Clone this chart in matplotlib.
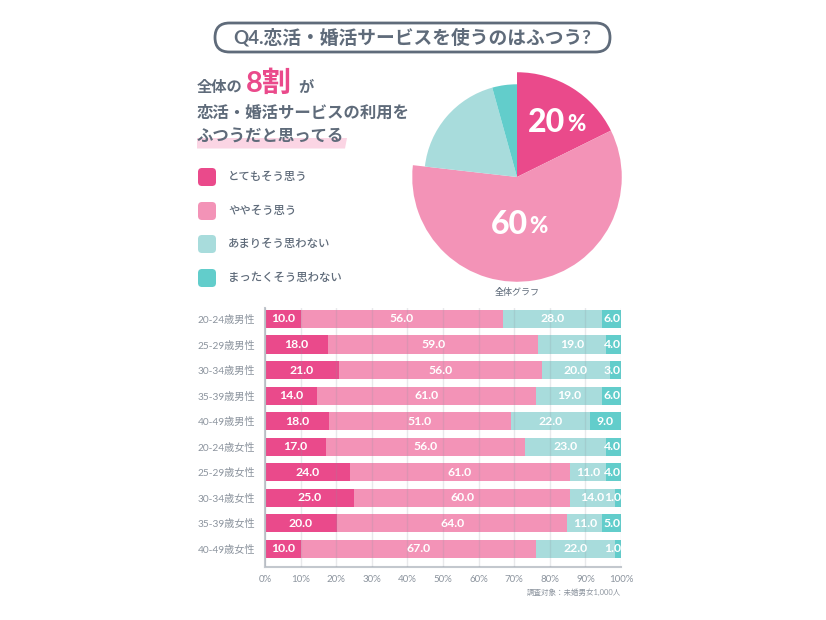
import matplotlib
matplotlib.use('Agg')
import matplotlib.pyplot as plt
from matplotlib.patches import FancyBboxPatch, Polygon
import numpy as np

plt.rcParams['font.family'] = ['Lato', 'Noto Sans CJK JP', 'DejaVu Sans']

W, H = 826, 620

# chart data
groups = ['20-24歳男性', '25-29歳男性', '30-34歳男性', '35-39歳男性', '40-49歳男性',
          '20-24歳女性', '25-29歳女性', '30-34歳女性', '35-39歳女性', '40-49歳女性']

# printed labels
very_labels = [10, 18, 21, 14, 18, 17, 24, 25, 20, 10]
somewhat_labels = [56, 59, 56, 61, 51, 56, 61, 60, 64, 67]
not_much_labels = [28, 19, 20, 19, 22, 23, 11, 14, 11, 22]
not_at_all_labels = [6, 4, 3, 6, 9, 4, 4, 1, 5, 1]

# bar lengths, they differ a little from the printed numbers
very = [10.0, 17.8, 20.8, 14.7, 17.9, 17.1, 23.9, 25.1, 20.2, 10.1]
somewhat = [56.9, 59.0, 57.0, 61.5, 51.3, 56.0, 61.7, 60.6, 64.7, 66.1]
not_much = [27.9, 18.9, 19.0, 18.6, 22.0, 22.6, 10.1, 12.6, 9.9, 22.1]
not_at_all = [5.2, 4.3, 3.2, 5.2, 8.8, 4.3, 4.3, 1.7, 5.2, 1.7]

legend_labels = ['とてもそう思う', 'ややそう思う', 'あまりそう思わない', 'まったくそう思わない']
pie_values = [17.7, 59.1, 18.9, 4.3]
pie_radii = [1.0, 1.0, 0.885, 0.885]
xticks = list(range(0, 101, 10))

colors = ['#ea4a8b', '#f393b7', '#a8dcdc', '#62cdcb']
slate = '#5f6b7a'
grey = '#8c949e'


def px_axes(fig, left, top, right, bottom):
    """axes placed by pixel box, y measured from the top of the image"""
    return fig.add_axes([left / W, 1 - bottom / H, (right - left) / W, (bottom - top) / H])


fig = plt.figure(figsize=(W / 100, H / 100), dpi=100, facecolor='white')

# background layer in pixel coordinates for the text and decorations
bg = fig.add_axes([0, 0, 1, 1])
bg.set_xlim(0, W)
bg.set_ylim(H, 0)
bg.axis('off')

# title pill
bg.add_patch(FancyBboxPatch((215, 23), 395, 29, boxstyle='round,pad=0,rounding_size=14.5',
                            fc='white', ec=slate, lw=2))
bg.text(412, 37.5, 'Q4.恋活・婚活サービスを使うのはふつう?', ha='center', va='center',
        fontsize=13.5, fontweight='bold', color=slate)

# headline
bg.text(197, 88, '全体の', ha='left', va='center', fontsize=11, fontweight='bold', color=slate)
bg.text(246, 84, '8割', ha='left', va='center', fontsize=21, fontweight='bold', color=colors[0])
bg.text(298, 88, 'が', ha='left', va='center', fontsize=11, fontweight='bold', color=slate)
bg.add_patch(Polygon([(197, 138), (347, 138), (345, 148.5), (197, 148.5)], fc='#fbd5e4', ec='none'))
bg.text(197, 113, '恋活・婚活サービスの利用を', ha='left', va='center', fontsize=11.8,
        fontweight='bold', color=slate)
bg.text(197, 137, 'ふつうだと思ってる', ha='left', va='center', fontsize=11.8,
        fontweight='bold', color=slate)

# legend
for label, col, yc in zip(legend_labels, colors, [177, 211, 244, 278]):
    bg.add_patch(FancyBboxPatch((198, yc - 9), 18, 18, boxstyle='round,pad=0,rounding_size=4',
                                fc=col, ec='none'))
    bg.text(228, yc - 0.5, label, ha='left', va='center', fontsize=8.2, fontweight='medium',
            color=slate)

bg.text(517, 292, '全体グラフ', ha='center', va='center', fontsize=6.5, color=slate)
bg.text(621, 592, '調査対象：未婚男女1,000人', ha='right', va='center', fontsize=5.4, color=grey)

# pie
pie_ax = px_axes(fig, 407, 67, 627, 287)
wedges, _ = pie_ax.pie(pie_values, colors=colors, startangle=90, counterclock=False, radius=1.0)
for w, r in zip(wedges, pie_radii):
    w.set_radius(r)
pie_ax.set_xlim(-1.05, 1.05)
pie_ax.set_ylim(-1.05, 1.05)
pie_ax.text(0.46, 0.525, '20', ha='right', va='center', fontsize=23, fontweight='black',
            color='white')
pie_ax.text(0.475, 0.505, '%', ha='left', va='center', fontsize=16, fontweight='black',
            color='white')
pie_ax.text(0.105, -0.45, '60', ha='right', va='center', fontsize=23, fontweight='black',
            color='white')
pie_ax.text(0.12, -0.47, '%', ha='left', va='center', fontsize=16, fontweight='black',
            color='white')

# stacked bars
ax = px_axes(fig, 265, 308, 621, 567)
ax.patch.set_alpha(0)
y = np.arange(len(groups))
left = np.zeros(len(groups))
series = [(very, very_labels), (somewhat, somewhat_labels),
          (not_much, not_much_labels), (not_at_all, not_at_all_labels)]
for (vals, labels), col in zip(series, colors):
    ax.barh(y, vals, left=left, height=0.71, color=col, zorder=2)
    for yi, v, l, lab in zip(y, vals, left, labels):
        # narrow segments at the right edge get pushed inwards
        xc = min(l + v / 2, 97.6)
        ax.text(xc, yi, f'{lab:.1f}', ha='center', va='center', fontsize=8.8,
                fontweight='bold', color='white', zorder=4)
    left += np.array(vals)

ax.set_xlim(0, 100)
ax.set_ylim(9.706, -0.43)
ax.set_xticks(xticks)
ax.set_xticklabels([f'{t}%' for t in xticks], fontsize=7, color=grey)
ax.set_yticks(y)
ax.set_yticklabels(groups, fontsize=7.3, color=grey)
ax.tick_params(axis='both', length=0)
ax.tick_params(axis='x', pad=6)
ax.tick_params(axis='y', pad=7)
ax.grid(axis='x', color='#8c949e', alpha=0.2, lw=1, zorder=3)
ax.set_axisbelow(False)
for side in ['top', 'right']:
    ax.spines[side].set_visible(False)
for side in ['left', 'bottom']:
    ax.spines[side].set_color('#c3c8ce')
    ax.spines[side].set_linewidth(1.5)

fig.savefig('out.png', dpi=100)
